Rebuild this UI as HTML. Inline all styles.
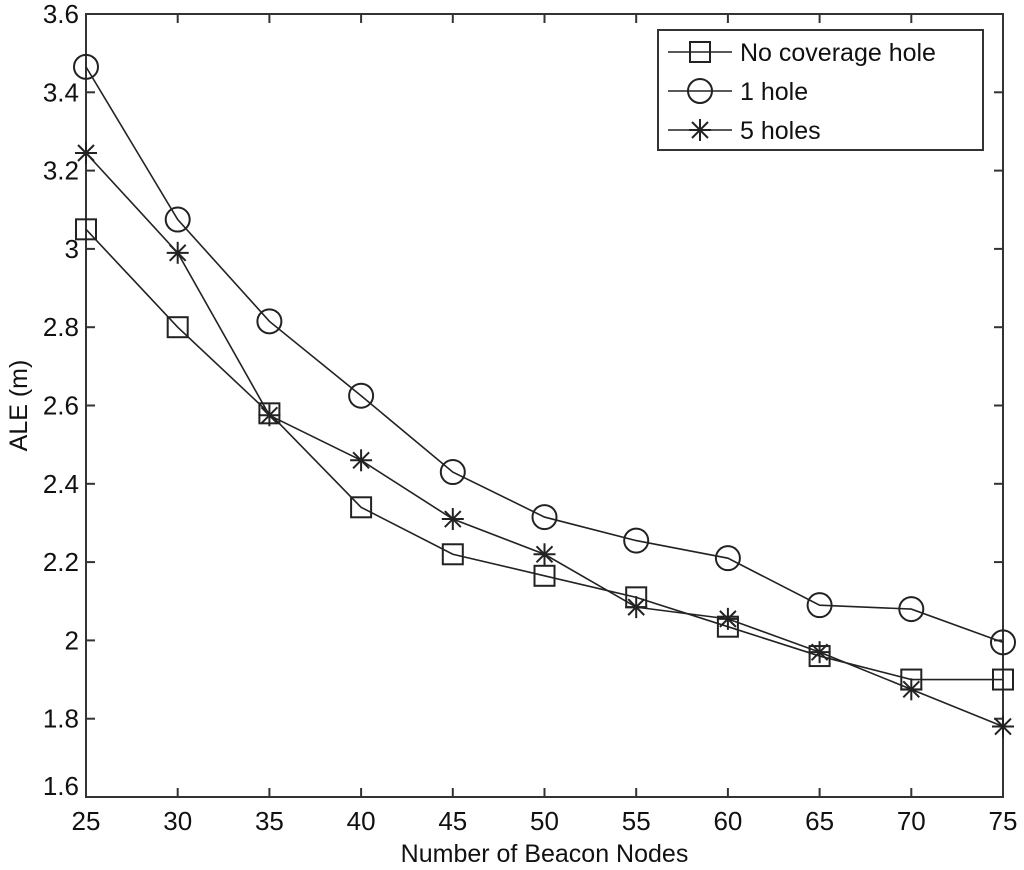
<!DOCTYPE html>
<html><head><meta charset="utf-8"><style>
body{margin:0;background:#fff;}
svg{display:block;font-family:"Liberation Sans",Arial,sans-serif;}
</style></head><body>
<svg id="chart" width="1024" height="870">
<g id="grid"></g>
</svg>
<script>
const xCats=[25,30,35,40,45,50,55,60,65,70,75];
const yTicks=[1.6,1.8,2,2.2,2.4,2.6,2.8,3,3.2,3.4,3.6];
const yTickLabels=["1.6","1.8","2","2.2","2.4","2.6","2.8","3","3.2","3.4","3.6"];
const seriesNoHole=[3.05,2.80,2.58,2.34,2.22,2.165,2.11,2.035,1.96,1.90,1.90];
const seriesOneHole=[3.465,3.075,2.815,2.625,2.43,2.315,2.255,2.21,2.09,2.08,1.995];
const seriesFiveHoles=[3.245,2.99,2.575,2.46,2.31,2.22,2.085,2.055,1.97,1.875,1.78];
const seriesNames=["No coverage hole","1 hole","5 holes"];

const L=86,R=1003,T=14,B=797;
const sx=v=>L+(v-25)/(75-25)*(R-L);
const sy=v=>B-(v-1.6)/(3.6-1.6)*(B-T);
const svg=document.getElementById('chart');
const NS='http://www.w3.org/2000/svg';
function mk(tag,attrs,parent){const e=document.createElementNS(NS,tag);for(const k in attrs)e.setAttribute(k,attrs[k]);(parent||svg).appendChild(e);return e;}

const frame=mk('rect',{x:L,y:T,width:R-L,height:B-T,fill:'none',stroke:'#333','stroke-width':2});



xCats.forEach(v=>{
  const x=sx(v);
  const t1=mk('line',{x1:x,y1:B,x2:x,y2:B-9,stroke:'#333','stroke-width':2});
  
  
  const t2=mk('line',{x1:x,y1:T,x2:x,y2:T+9,stroke:'#333','stroke-width':2});
  
  
  const tl=mk('text',{x:x,y:B+33,'text-anchor':'middle','font-size':26,fill:'#111'});
  tl.textContent=v;
  
  
});
yTicks.forEach((v,i)=>{
  const y=sy(v);
  const t1=mk('line',{x1:L,y1:y,x2:L+9,y2:y,stroke:'#333','stroke-width':2});
  
  
  const t2=mk('line',{x1:R,y1:y,x2:R-9,y2:y,stroke:'#333','stroke-width':2});
  
  
  const tl=mk('text',{x:L-7,y:y+(i===0?-2:9),'text-anchor':'end','font-size':26,fill:'#111'});
  tl.textContent=yTickLabels[i];
  
  
});
const xt=mk('text',{x:(L+R)/2,y:862,'text-anchor':'middle','font-size':25,fill:'#111'});
xt.textContent='Number of Beacon Nodes';


const yt=mk('text',{x:0,y:0,'text-anchor':'middle','font-size':25,fill:'#111',transform:`translate(27,${(T+B)/2}) rotate(-90)`});
yt.textContent='ALE (m)';



function marker(type,x,y,g){
  if(type==='square'){mk('rect',{x:x-10,y:y-10,width:20,height:20,fill:'none',stroke:'#222','stroke-width':2},g);}
  else if(type==='circle'){mk('circle',{cx:x,cy:y,r:12,fill:'none',stroke:'#222','stroke-width':2},g);}
  else{const r=11;
    mk('line',{x1:x-r,y1:y,x2:x+r,y2:y,stroke:'#222','stroke-width':2},g);
    mk('line',{x1:x,y1:y-r,x2:x,y2:y+r,stroke:'#222','stroke-width':2},g);
    mk('line',{x1:x-8,y1:y-8,x2:x+8,y2:y+8,stroke:'#222','stroke-width':2},g);
    mk('line',{x1:x-8,y1:y+8,x2:x+8,y2:y-8,stroke:'#222','stroke-width':2},g);}
}
function drawSeries(vals,type,name){
  const g=mk('g',{});
  
  
  mk('polyline',{points:vals.map((v,i)=>sx(xCats[i])+','+sy(v)).join(' '),fill:'none',stroke:'#222','stroke-width':1.6},g);
  vals.forEach((v,i)=>marker(type,sx(xCats[i]),sy(v),g));
}
drawSeries(seriesNoHole,'square','series-no-coverage-hole');
drawSeries(seriesOneHole,'circle','series-1-hole');
drawSeries(seriesFiveHoles,'star','series-5-holes');

const lg=mk('g',{});


mk('rect',{x:658,y:30,width:325,height:120,fill:'#fff',stroke:'#333','stroke-width':2},lg);
['square','circle','star'].forEach((t,i)=>{
  const y=52+i*39;
  mk('line',{x1:668,y1:y,x2:732,y2:y,stroke:'#222','stroke-width':1.6},lg);
  marker(t,700,y,lg);
  const tx=mk('text',{x:740,y:y+9,'font-size':25,fill:'#111'},lg);
  tx.textContent=seriesNames[i];
  
  
});
</script>
</body></html>
